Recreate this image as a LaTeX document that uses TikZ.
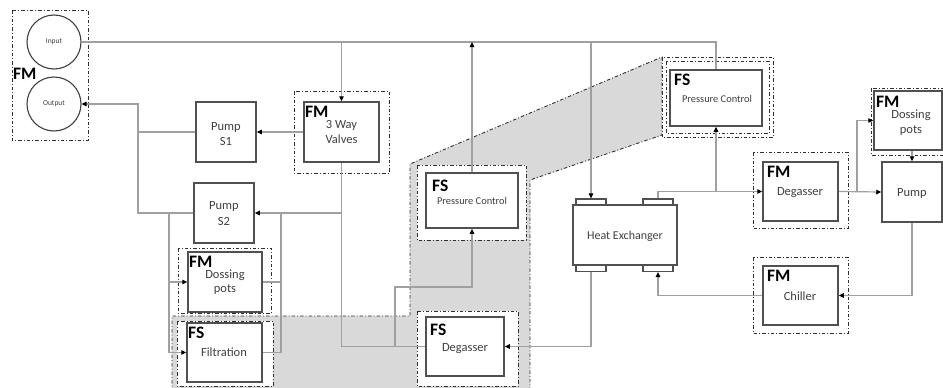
\documentclass[tikz,border=0pt]{standalone}
\usepackage{fontspec}
\setmainfont{Carlito}
\usetikzlibrary{arrows.meta,calc}
\definecolor{boxc}{HTML}{505050}
\definecolor{linec}{HTML}{A0A0A0}
\definecolor{txtc}{HTML}{404040}
\definecolor{shadec}{HTML}{D9D9D9}
\definecolor{framec}{HTML}{303030}
\begin{document}
\begin{tikzpicture}[x=1pt,y=-1pt,
  box/.style={draw=boxc,line width=1.5pt,fill=white,rectangle,inner sep=0},
  pipe/.style={draw=boxc,line width=1.1pt,fill=white,rectangle,inner sep=0,minimum width=30pt,minimum height=6pt},
  conn/.style={draw=linec,line width=1.2pt},
  arr/.style={conn,-{Triangle[length=5pt,width=4.5pt,color=black]}},
  frame/.style={draw=framec,line width=0.9pt,dash pattern=on 3.5pt off 2pt on 1pt off 2pt,fill=white},
  lbl/.style={font=\fontsize{12.5}{15}\selectfont,text=txtc,anchor=base,inner sep=0},
  small/.style={font=\fontsize{10.4}{12}\selectfont,text=txtc,anchor=base,inner sep=0},
  tag/.style={font=\fontsize{17.5}{20}\selectfont\bfseries,anchor=base west,inner sep=0}
]
\useasboundingbox (0,0) rectangle (943,388);
% shaded callout
\filldraw[fill=shadec,draw=framec,line width=0.9pt,dash pattern=on 3.5pt off 2pt on 1pt off 2pt]
  (172,392) -- (172,316) -- (410,316) -- (410,164) -- (662,57) -- (662,135) -- (530,180) -- (530,392);
% frames
\draw[frame] (12,10) rectangle (88,140);
\draw[frame] (294,91) rectangle (389,173);
\draw[frame] (178,248) rectangle (271,313);
\draw[frame] (177,321) rectangle (273,386);
\draw[frame] (417,165) rectangle (526,240);
\draw[frame] (417,311) rectangle (518,386);
\draw[frame] (662,57) rectangle (773,137);
\draw[frame] (666,61) rectangle (769,133);
\draw[frame] (753,152) rectangle (848,228);
\draw[frame] (753,257) rectangle (848,333);
\draw[frame] (871,88) rectangle (947,155);
% circles
\node[circle,draw=txtc,line width=1.1pt,minimum size=54pt,inner sep=0,font=\fontsize{7.5}{9}\selectfont,text=txtc] (in) at (54,42) {Input};
\node[circle,draw=txtc,line width=1.1pt,minimum size=54pt,inner sep=0,font=\fontsize{7.5}{9}\selectfont,text=txtc] (out) at (54,104) {Output};
% boxes
\node[box,minimum width=75pt,minimum height=60pt] (twv) at (341.5,132) {};
\node[box,minimum width=60pt,minimum height=60pt] (ps1) at (226,132) {};
\node[box,minimum width=60pt,minimum height=60pt] (ps2) at (224,213) {};
\node[box,minimum width=74pt,minimum height=60pt] (dpl) at (225,282) {};
\node[box,minimum width=75pt,minimum height=59pt] (filt) at (224.5,352.5) {};
\node[box,minimum width=92pt,minimum height=55pt] (pcl) at (472,200.5) {};
\node[box,minimum width=78pt,minimum height=59pt] (degl) at (465,346.5) {};
\node[box,minimum width=104pt,minimum height=60pt] (hx) at (625,235) {};
\node[pipe] (hxtl) at (591,202) {};
\node[pipe] (hxtr) at (658,202) {};
\node[pipe] (hxbl) at (591,268.5) {};
\node[pipe] (hxbr) at (658,268.5) {};
\node[box,minimum width=92pt,minimum height=56pt] (pcr) at (716,98) {};
\node[box,minimum width=75pt,minimum height=59pt] (degr) at (800.5,191.5) {};
\node[box,minimum width=75pt,minimum height=59pt] (chil) at (800.5,295.5) {};
\node[box,minimum width=68pt,minimum height=59pt] (dpr) at (908,120.5) {};
\node[box,minimum width=60pt,minimum height=60pt] (pump) at (912,192) {};
% connectors
\coordinate (jL) at (138,104);
\coordinate (jl2) at (169,213);
\coordinate (jr2) at (281,213);
\coordinate (jd) at (395,346.5);
\coordinate (kp) at (472,287);
\coordinate (jx) at (857,191.5);
\draw[conn] (in.east) -| (pcr.north);
\draw[arr] (twv.north |- in.east) -- (twv.north);
\draw[arr] (hxtl.north |- in.east) -- (hxtl.north);
\draw[arr] (pcl.north) -- (pcl.north |- in.east);
\draw[arr] (twv.west) -- (ps1.east);
\draw[arr] (ps2.west) -| (jL) -- (out.east);
\draw[conn] (ps1.west) -- (ps1.west -| jL);
\draw[conn] (twv.south) |- (degl.west);
\draw[arr] (twv.south |- ps2.east) -- (ps2.east);
\draw[arr] (jl2) |- (dpl.west);
\draw[arr] (jl2) |- (filt.west);
\draw[conn] (dpl.east) -| (jr2);
\draw[conn] (filt.east) -| (jr2);
\draw[arr] (jd) |- (kp) -- (pcl.south);
\draw[arr] (hxbl.south) |- (degl.east);
\draw[arr] (hxtr.north) |- (degr.west);
\draw[arr] (pcr.south |- degr.west) -- (pcr.south);
\draw[arr] (degr.east) -- (pump.west);
\draw[arr] (jx) |- (dpr.west);
\draw[arr] (pump.north |- dpr.south) -- (pump.north);
\draw[arr] (pump.south) |- (chil.east);
\draw[arr] (chil.west) -| (hxbr.south);
% tags
\node[tag] (tIO) at (13,79) {FM};
\node[tag] (tTW) at (305,117) {FM};
\node[tag] (tDL) at (189,267) {FM};
\node[tag] (tFI) at (188,338) {FS};
\node[tag] (tPL) at (432,191) {FS};
\node[tag] (tDG) at (430,335) {FS};
\node[tag] (tPR) at (674,85) {FS};
\node[tag] (tDR) at (767,177) {FM};
\node[tag] (tCH) at (767,281) {FM};
\node[tag] (tDP) at (876,107) {FM};
% labels
\node[lbl] (l1a) at (341.5,128) {3 Way};
\node[lbl] (l1b) at (341.5,143) {Valves};
\node[lbl] (l2a) at (226,130) {Pump};
\node[lbl] (l2b) at (226,145) {S1};
\node[lbl] (l3a) at (224,209) {Pump};
\node[lbl] (l3b) at (224,225) {S2};
\node[lbl] (l4a) at (225,278) {Dossing};
\node[lbl] (l4b) at (225,292) {pots};
\node[lbl] (l5) at (224,356) {Filtration};
\node[small] (l6) at (472,204) {Pressure Control};
\node[lbl] (l7) at (465,351) {Degasser};
\node[lbl,font=\fontsize{12}{14}\selectfont] (l8) at (625,239) {Heat Exchanger};
\node[small] (l9) at (717,102) {Pressure Control};
\node[lbl] (l10) at (800,195) {Degasser};
\node[lbl] (l11) at (800,300) {Chiller};
\node[lbl] (l12a) at (911,118) {Dossing};
\node[lbl] (l12b) at (911,133) {pots};
\node[lbl] (l13) at (912,196) {Pump};
\end{tikzpicture}
\end{document}
